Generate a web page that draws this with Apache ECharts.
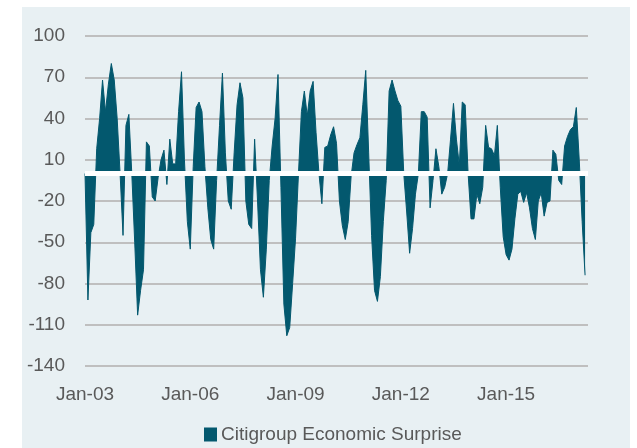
<!DOCTYPE html>
<html>
<head>
<meta charset="utf-8">
<script src="https://cdn.jsdelivr.net/npm/echarts@6/dist/echarts.min.js"></script>
<style>
  html, body { margin: 0; padding: 0; background: #ffffff; }
  #main { width: 637px; height: 448px; }
</style>
</head>
<body>
<div id="main"></div>
<script>
// monthly, Jan-03 .. May-17 (last month has no value)
var monthNames = ['Jan', 'Feb', 'Mar', 'Apr', 'May', 'Jun', 'Jul', 'Aug', 'Sep', 'Oct', 'Nov', 'Dec'];
var firstYear = 2003;
var monthCount = 173;

var surprise = [
  0, -92, -43, -37, 18, 40, 68, 45, 65, 80, 68, 40,
  0, -45, 35, 43, 0, -50, -103, -85, -70, 23, 20, -17,
  -20, -3, 10, 17, -8, 25, 7, 7, 45, 74, 10, -35,
  -55, 5, 48, 52, 45, 5, -25, -48, -55, -5, 35, 73,
  15, -20, -26, 15, 50, 66, 55, -20, -37, -40, 25, -20,
  -70, -90, -55, -5, 20, 40, 72, -10, -95, -118, -112, -80,
  -47, 0, 45, 60, 42, 60, 67, 30, 0, -22, 19, 20,
  28, 34, 22, -20, -38, -48, -35, -2, 15, 21, 26, 50,
  75, 15, -45, -85, -93, -75, -35, -5, 60, 68, 60, 53,
  49, 0, -28, -58, -40, -15, 0, 45, 45, 41, -25, -5,
  18, 5, -15, -10, 0, 25, 51, 25, 6, 52, 50, 0,
  -33, -33, -15, -22, -10, 35, 19, 18, 13, 35, -10, -46,
  -59, -63, -55, -33, -15, -13, -21, -14, -25, -40, -48, -20,
  -14, -31, -21, -20, 17, 14, -5, -8, 20, 27, 32, 34,
  48, 10, -35, -74
];

var yTicks = { min: -140, max: 100, step: 30 };

var categories = [];
for (var i = 0; i < monthCount; i++) {
  var yr = firstYear + Math.floor(i / 12);
  categories.push(monthNames[i % 12] + '-' + String(yr).slice(2));
}

var chart = echarts.init(document.getElementById('main'), null, { renderer: 'canvas' });

var option = {
  backgroundColor: '#ffffff',
  animation: false,
  textStyle: { fontFamily: 'Liberation Sans' },
  graphic: [
    {
      type: 'rect',
      z: -10,
      shape: { x: 22, y: 7, width: 608, height: 441 },
      style: { fill: '#E8F0F3' }
    }
  ],
  legend: {
    data: ['Citigroup Economic Surprise'],
    left: 199,
    top: 420,
    icon: 'rect',
    itemWidth: 13,
    itemHeight: 14,
    itemGap: 5,
    textStyle: { color: '#595959', fontSize: 19, padding: [0, 0, 0, -1] }
  },
  grid: {
    left: 85,
    right: 49,
    top: 36,
    bottom: 82
  },
  xAxis: {
    type: 'category',
    boundaryGap: false,
    data: categories,
    axisLine: { show: false, onZero: false },
    axisTick: { show: false },
    splitLine: { show: false },
    axisLabel: {
      color: '#595959',
      fontSize: 19,
      margin: 19,
      interval: function (index) { return index % 36 === 0; }
    }
  },
  yAxis: {
    type: 'value',
    min: yTicks.min,
    max: yTicks.max,
    interval: yTicks.step,
    axisLine: { show: false },
    axisTick: { show: false },
    axisLabel: { color: '#595959', fontSize: 19, margin: 20 },
    splitLine: { lineStyle: { color: '#BFBFBF', width: 2 } }
  },
  series: [
    {
      name: 'Citigroup Economic Surprise',
      type: 'line',
      data: surprise,
      symbol: 'none',
      color: '#03586E',
      lineStyle: { width: 1, color: '#03586E' },
      areaStyle: { color: '#03586E', opacity: 1 },
      markLine: {
        silent: true,
        symbol: 'none',
        label: { show: false },
        lineStyle: { color: '#ffffff', width: 5, type: 'solid' },
        data: [{ yAxis: 0 }]
      }
    }
  ]
};

chart.setOption(option);
</script>
</body>
</html>
